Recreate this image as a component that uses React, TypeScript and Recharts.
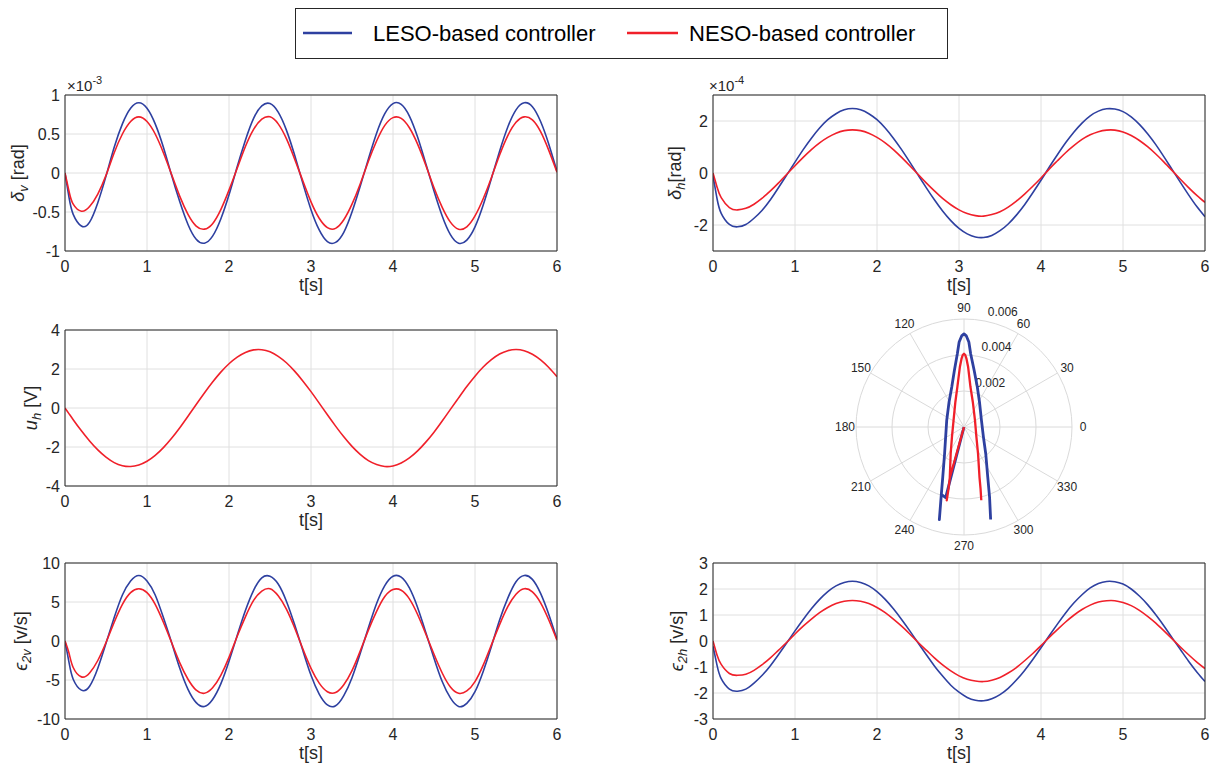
import React from "react";
import {
  LineChart, Line, XAxis, YAxis, CartesianGrid,
  ScatterChart, Scatter, RadarChart, PolarGrid, PolarAngleAxis,
} from "recharts";

const FONT = '"Liberation Sans", Arial, Helvetica, sans-serif';
const INK = "#262626";
const GRID = "#e0e0e0";
const BLUE = "#2e40a0";
const RED = "#f0202a";

const T_TICKS = [0, 1, 2, 3, 4, 5, 6];

const TIME = [
  0, 0.05, 0.1, 0.2, 0.3, 0.4, 0.5, 0.6, 0.7, 0.8, 0.9, 1.0, 1.1, 1.2, 1.3, 1.4, 1.5, 1.6, 1.7, 1.8, 1.9,
  2.0, 2.1, 2.2, 2.3, 2.4, 2.5, 2.6, 2.7, 2.8, 2.9, 3.0, 3.1, 3.2, 3.3, 3.4, 3.5, 3.6, 3.7, 3.8, 3.9,
  4.0, 4.1, 4.2, 4.3, 4.4, 4.5, 4.6, 4.7, 4.8, 4.9, 5.0, 5.1, 5.2, 5.3, 5.4, 5.5, 5.6, 5.7, 5.8, 5.9, 6.0,
];

// delta_v, x1e-3 rad
const DV_LESO = [
  0, -0.32, -0.53, -0.68, -0.63, -0.38, -0.04,
  0.33, 0.63, 0.83, 0.90, 0.83, 0.63, 0.33, -0.03, -0.37, -0.66, -0.85, -0.90, -0.81, -0.59,
  -0.28, 0.08, 0.42, 0.70, 0.86, 0.89, 0.78, 0.55, 0.23, -0.13, -0.47, -0.73, -0.88, -0.89, -0.76,
  -0.50, -0.17, 0.18, 0.51, 0.76, 0.89, 0.88, 0.73, 0.46, 0.12, -0.23, -0.55, -0.79, -0.90, -0.86,
  -0.69, -0.41, -0.07, 0.28, 0.59, 0.81, 0.90, 0.85, 0.66, 0.37, 0.02,
];
const DV_NESO = [
  0, -0.24, -0.40, -0.49, -0.43, -0.27, -0.03,
  0.26, 0.50, 0.66, 0.72, 0.66, 0.50, 0.26, -0.02, -0.30, -0.53, -0.68, -0.72, -0.65, -0.47,
  -0.22, 0.06, 0.34, 0.56, 0.69, 0.72, 0.63, 0.44, 0.18, -0.10, -0.37, -0.58, -0.70, -0.71, -0.60,
  -0.40, -0.14, 0.15, 0.41, 0.61, 0.71, 0.70, 0.58, 0.37, 0.10, -0.19, -0.44, -0.63, -0.72, -0.69,
  -0.55, -0.33, -0.06, 0.23, 0.48, 0.65, 0.72, 0.68, 0.53, 0.29, 0.01,
];

// delta_h, x1e-4 rad
const DH_LESO = [
  -0.1, -1.0, -1.55, -1.98, -2.07, -1.98, -1.74, -1.43, -1.03, -0.56,
  -0.07, 0.42, 0.90, 1.34, 1.73, 2.05, 2.28, 2.43, 2.48, 2.43,
  2.28, 2.05, 1.73, 1.34, 0.90, 0.42, -0.07, -0.56, -1.03, -1.46,
  -1.83, -2.13, -2.34, -2.46, -2.48, -2.40, -2.22, -1.96, -1.62, -1.22,
  -0.76, -0.28, 0.22, 0.70, 1.16, 1.57, 1.92, 2.20, 2.38, 2.47,
  2.46, 2.36, 2.16, 1.87, 1.51, 1.09, 0.62, 0.13, -0.36, -0.84,
  -1.29, -1.68,
];
const DH_NESO = [
  0, -0.55, -0.95, -1.33, -1.42, -1.36, -1.20, -0.97, -0.69, -0.38,
  -0.05, 0.28, 0.60, 0.90, 1.16, 1.37, 1.53, 1.63, 1.66, 1.63,
  1.53, 1.37, 1.16, 0.90, 0.60, 0.28, -0.05, -0.38, -0.69, -0.98,
  -1.22, -1.42, -1.56, -1.64, -1.66, -1.60, -1.49, -1.31, -1.08, -0.81,
  -0.51, -0.19, 0.15, 0.47, 0.78, 1.05, 1.29, 1.47, 1.59, 1.65,
  1.65, 1.58, 1.44, 1.25, 1.01, 0.73, 0.42, 0.09, -0.24, -0.56,
  -0.86, -1.13,
];

// u_h [V]
const UH_NESO = [
  0, -0.30,
  -0.60, -1.17, -1.69, -2.15, -2.52, -2.80, -2.96, -3.00, -2.92, -2.73,
  -2.43, -2.03, -1.55, -1.01, -0.42, 0.18, 0.77, 1.33, 1.84, 2.27,
  2.61, 2.85, 2.98, 2.99, 2.88, 2.65, 2.32, 1.89, 1.39, 0.84,
  0.25, -0.35, -0.93, -1.48, -1.97, -2.38, -2.70, -2.90, -3.00, -2.97,
  -2.82, -2.56, -2.20, -1.75, -1.24, -0.67, -0.07, 0.52, 1.10, 1.63,
  2.10, 2.48, 2.77, 2.94, 3.00, 2.94, 2.76, 2.47, 2.08, 1.61,
];

// eps_2v [v/s]
const E2V_LESO = [
  0, -2.8, -4.9, -6.3, -5.8, -3.5, -0.3,
  3.0, 5.9, 7.7, 8.4, 7.7, 5.9, 3.0, -0.2, -3.5, -6.2, -7.9, -8.4, -7.5, -5.5,
  -2.6, 0.7, 3.9, 6.5, 8.1, 8.3, 7.3, 5.1, 2.1, -1.2, -4.4, -6.8, -8.2, -8.3, -7.0,
  -4.7, -1.6, 1.7, 4.8, 7.1, 8.3, 8.2, 6.8, 4.3, 1.1, -2.2, -5.2, -7.3, -8.4, -8.0,
  -6.5, -3.9, -0.7, 2.7, 5.5, 7.6, 8.4, 7.9, 6.1, 3.4, 0.2,
];
const E2V_NESO = [
  0, -1.6, -3.4, -4.6, -4.1, -2.5, -0.2,
  2.4, 4.7, 6.2, 6.7, 6.2, 4.7, 2.4, -0.2, -2.8, -4.9, -6.3, -6.7, -6.0, -4.4,
  -2.1, 0.6, 3.1, 5.2, 6.4, 6.7, 5.8, 4.1, 1.7, -1.0, -3.5, -5.4, -6.5, -6.6, -5.6,
  -3.8, -1.3, 1.4, 3.8, 5.7, 6.6, 6.5, 5.4, 3.4, 0.9, -1.7, -4.1, -5.9, -6.7, -6.4,
  -5.2, -3.1, -0.5, 2.1, 4.4, 6.0, 6.7, 6.3, 4.9, 2.7, 0.1,
];

// eps_2h [v/s]
const E2H_LESO = [
  -0.2, -0.95, -1.45, -1.85, -1.93, -1.85, -1.62, -1.32, -0.95, -0.52,
  -0.07, 0.39, 0.83, 1.24, 1.60, 1.90, 2.12, 2.25, 2.30, 2.25,
  2.12, 1.90, 1.60, 1.24, 0.83, 0.39, -0.07, -0.52, -0.96, -1.35,
  -1.70, -1.97, -2.17, -2.28, -2.30, -2.22, -2.06, -1.82, -1.50, -1.13,
  -0.71, -0.26, 0.20, 0.65, 1.08, 1.46, 1.78, 2.04, 2.21, 2.29,
  2.28, 2.19, 2.00, 1.73, 1.40, 1.01, 0.58, 0.12, -0.33, -0.78,
  -1.19, -1.56,
];
const E2H_NESO = [
  0, -0.55, -0.90, -1.25, -1.32, -1.28, -1.13, -0.91, -0.65, -0.35,
  -0.05, 0.27, 0.57, 0.84, 1.09, 1.29, 1.44, 1.53, 1.56, 1.53,
  1.44, 1.29, 1.09, 0.84, 0.57, 0.27, -0.05, -0.35, -0.65, -0.92,
  -1.15, -1.34, -1.47, -1.54, -1.56, -1.51, -1.40, -1.23, -1.02, -0.76,
  -0.48, -0.18, 0.14, 0.44, 0.73, 0.99, 1.21, 1.38, 1.50, 1.55,
  1.55, 1.48, 1.36, 1.18, 0.95, 0.69, 0.39, 0.08, -0.23, -0.53,
  -0.81, -1.06,
];

// polar trace, cartesian x/y in units of 1e-3
const POLAR_LESO_X = [0, -1.02, -1.26, -1.37, -1.26, -1.18, -1.08, -1.02, -0.96, -0.83, -0.68, -0.53, -0.37, -0.27, -0.13, 0, 0.13, 0.27, 0.37, 0.56, 0.74, 0.86, 0.97, 1.08, 1.21, 1.32, 1.42, 1.48];
const POLAR_LESO_Y = [0, -3.92, -3.74, -5.15, -3.74, -2.78, -1.50, -0.56, 0.37, 1.39, 2.22, 3.17, 4.07, 4.72, 5.06, 5.17, 5.06, 4.72, 4.07, 3.17, 2.22, 1.39, 0.37, -0.56, -1.50, -2.78, -3.89, -5.14];
const POLAR_NESO_X = [0, -0.79, -0.86, -0.96, -0.86, -0.79, -0.74, -0.67, -0.58, -0.48, -0.37, -0.23, -0.14, -0.07, 0, 0.07, 0.14, 0.23, 0.36, 0.49, 0.61, 0.69, 0.78, 0.86, 0.92, 0.96];
const POLAR_NESO_Y = [0, -2.82, -3.44, -4.07, -3.44, -2.82, -1.48, -0.56, 0.37, 1.39, 2.22, 3.33, 3.78, 4.00, 4.07, 4.00, 3.78, 3.33, 2.22, 1.39, 0.37, -0.56, -1.48, -2.78, -3.44, -4.07];

const ANGLE_TICKS = [0, 30, 60, 90, 120, 150, 180, 210, 240, 270, 300, 330];
const RING_TICKS = [0.002, 0.004, 0.006];
const R_MAX = 0.006;
const R_LABEL_ANGLE = 80;

const PLOT_TOP = 25;
const PLOT_H = 156;
const Y_AXIS_W = 65;

type YLab = { sym: string; sub: string; unit: string };

function Panel({
  left, top, leso, neso, yDomain, yTicks, ylab, labelX, exp, expX,
}: {
  left: number; top: number; leso?: number[]; neso: number[];
  yDomain: [number, number]; yTicks: number[]; ylab: YLab; labelX: number; exp?: string; expX?: number;
}) {
  const rows = TIME.map((t, i) => ({ t, leso: leso ? leso[i] : null, neso: neso[i] }));
  const cy = PLOT_TOP + PLOT_H / 2;
  const tickStyle = { fontSize: 16, fill: INK, fontFamily: FONT };

  return (
    <div style={{ position: "absolute", left, top }}>
      <LineChart width={570} height={226} data={rows} margin={{ top: PLOT_TOP, right: 13, bottom: 0, left: 0 }}>
        <CartesianGrid stroke={GRID} />
        <XAxis
          dataKey="t" type="number" domain={[0, 6]} ticks={T_TICKS} allowDataOverflow height={45}
          axisLine={{ stroke: INK }} tickLine={false} tickSize={0} tickMargin={10} tick={tickStyle}
          label={{
            content: () => (
              <text x={Y_AXIS_W + 246} y={PLOT_TOP + PLOT_H + 34} textAnchor="middle" dominantBaseline="central"
                fontSize={18} fill={INK} fontFamily={FONT}>t[s]</text>
            ),
          }}
        />
        <XAxis xAxisId="bin" type="number" domain={[0, 6]} ticks={T_TICKS} allowDataOverflow mirror
          tick={false} tickSize={5} tickLine={{ stroke: INK }} axisLine={false} />
        <XAxis xAxisId="top" orientation="top" type="number" domain={[0, 6]} ticks={T_TICKS} allowDataOverflow mirror
          tick={false} tickSize={5} tickLine={{ stroke: INK }} axisLine={{ stroke: INK }}
          label={exp ? {
            content: () => (
              <text x={expX} y={21} fontSize={15} fill={INK} fontFamily={FONT}>
                ×10<tspan dy={-7} fontSize={11}>{exp}</tspan>
              </text>
            ),
          } : undefined}
        />
        <YAxis
          type="number" domain={yDomain} ticks={yTicks} allowDataOverflow width={Y_AXIS_W}
          axisLine={{ stroke: INK }} tickLine={false} tickSize={0} tickMargin={5} tick={tickStyle}
          label={{
            content: () => (
              <text transform={`translate(${labelX},${cy}) rotate(-90)`} textAnchor="middle" dominantBaseline="central"
                fontSize={18} fill={INK} fontFamily={FONT}>
                <tspan fontStyle="italic">{ylab.sym}</tspan>
                <tspan dy={5} fontSize={13} fontStyle="italic">{ylab.sub}</tspan>
                <tspan dy={-5}>{ylab.unit}</tspan>
              </text>
            ),
          }}
        />
        <YAxis yAxisId="lin" type="number" domain={yDomain} ticks={yTicks} allowDataOverflow mirror
          tick={false} tickSize={5} tickLine={{ stroke: INK }} axisLine={false} />
        <YAxis yAxisId="right" orientation="right" type="number" domain={yDomain} ticks={yTicks} allowDataOverflow mirror
          tick={false} tickSize={5} tickLine={{ stroke: INK }} axisLine={{ stroke: INK }} />
        {leso && (
          <Line dataKey="leso" type="natural" stroke={BLUE} strokeWidth={1.6} dot={false} isAnimationActive={false} />
        )}
        <Line dataKey="neso" type="natural" stroke={RED} strokeWidth={1.6} dot={false} isAnimationActive={false} />
      </LineChart>
    </div>
  );
}

function AngleTick(props: any) {
  return (
    <text x={props.x} y={props.y} textAnchor="middle" dominantBaseline="central" fontSize={12} fill={INK} fontFamily={FONT}>
      {props.payload.value}
    </text>
  );
}

const noDot = () => <g />;

const P_W = 300;
const P_H = 260;
const P_CX = 150;
const P_CY = 130;
const P_R = 108;

function PolarPanel() {
  const angleRows = ANGLE_TICKS.map((a) => ({ angle: a }));
  const ringPx = RING_TICKS.map((v) => (P_R * v) / R_MAX);
  const leso = POLAR_LESO_X.map((x, i) => ({ x: x * 1e-3, y: POLAR_LESO_Y[i] * 1e-3 }));
  const neso = POLAR_NESO_X.map((x, i) => ({ x: x * 1e-3, y: POLAR_NESO_Y[i] * 1e-3 }));
  const a = (R_LABEL_ANGLE * Math.PI) / 180;
  return (
    <div style={{ position: "absolute", left: 964 - P_CX, top: 427 - P_CY, width: P_W, height: P_H }}>
      <div style={{ position: "absolute", left: 0, top: 0 }}>
        <RadarChart width={P_W} height={P_H} cx={P_CX} cy={P_CY} outerRadius={P_R} startAngle={30} endAngle={390}
          data={angleRows} margin={{ top: 0, right: 0, bottom: 0, left: 0 }}>
          <PolarGrid gridType="circle" stroke="#dadada" polarRadius={ringPx} />
          <PolarAngleAxis dataKey="angle" tickLine={false} axisLine={false} tickSize={11} tick={AngleTick} />
        </RadarChart>
      </div>
      <svg width={P_W} height={P_H} style={{ position: "absolute", left: 0, top: 0 }}>
        {RING_TICKS.map((v, i) => (
          <text key={v} x={P_CX + ringPx[i] * Math.cos(a) + 5} y={P_CY - ringPx[i] * Math.sin(a) - 9}
            dominantBaseline="central" fontSize={12} fill={INK} fontFamily={FONT}>{String(v)}</text>
        ))}
      </svg>
      <div style={{ position: "absolute", left: P_CX - P_R, top: P_CY - P_R }}>
        <ScatterChart width={2 * P_R} height={2 * P_R} margin={{ top: 0, right: 0, bottom: 0, left: 0 }}>
          <XAxis type="number" dataKey="x" domain={[-R_MAX, R_MAX]} allowDataOverflow hide />
          <YAxis type="number" dataKey="y" domain={[-R_MAX, R_MAX]} allowDataOverflow hide />
          <Scatter data={leso} fill={BLUE} line={{ stroke: BLUE, strokeWidth: 2.8, strokeLinejoin: "round" }} shape={noDot} isAnimationActive={false} />
          <Scatter data={neso} fill={RED} line={{ stroke: RED, strokeWidth: 2.3, strokeLinejoin: "round" }} shape={noDot} isAnimationActive={false} />
        </ScatterChart>
      </div>
    </div>
  );
}

export default function App() {
  return (
    <div style={{ position: "absolute", left: 0, top: 0, width: 1213, height: 764, background: "#fff", fontFamily: FONT }}>
      <Panel left={0} top={70} leso={DV_LESO} neso={DV_NESO} yDomain={[-1, 1]} yTicks={[-1, -0.5, 0, 0.5, 1]}
        ylab={{ sym: "δ", sub: "v", unit: " [rad]" }} labelX={18} exp="-3" expX={67} />
      <Panel left={648} top={70} leso={DH_LESO} neso={DH_NESO} yDomain={[-3, 3]} yTicks={[-2, 0, 2]}
        ylab={{ sym: "δ", sub: "h", unit: "[rad]" }} labelX={27} exp="-4" expX={61} />
      <Panel left={0} top={305} neso={UH_NESO} yDomain={[-4, 4]} yTicks={[-4, -2, 0, 2, 4]}
        ylab={{ sym: "u", sub: "h", unit: " [V]" }} labelX={31} />
      <PolarPanel />
      <Panel left={0} top={538} leso={E2V_LESO} neso={E2V_NESO} yDomain={[-10, 10]} yTicks={[-10, -5, 0, 5, 10]}
        ylab={{ sym: "ϵ", sub: "2v", unit: " [v/s]" }} labelX={21} />
      <Panel left={648} top={538} leso={E2H_LESO} neso={E2H_NESO} yDomain={[-3, 3]} yTicks={[-3, -2, -1, 0, 1, 2, 3]}
        ylab={{ sym: "ϵ", sub: "2h", unit: " [v/s]" }} labelX={29} />

      <svg width={1213} height={764} style={{ position: "absolute", left: 0, top: 0, pointerEvents: "none" }}>
        <rect x={295.5} y={8.5} width={652} height={50} fill="#fff" stroke={INK} />
        <line x1={303} x2={352} y1={33} y2={33} stroke={BLUE} strokeWidth={2.5} />
        <text x={373} y={33} dominantBaseline="central" fontSize={22} fill="#000" fontFamily={FONT}>LESO-based controller</text>
        <line x1={627} x2={678} y1={33} y2={33} stroke={RED} strokeWidth={2.5} />
        <text x={689} y={33} dominantBaseline="central" fontSize={22} fill="#000" fontFamily={FONT}>NESO-based controller</text>
      </svg>
    </div>
  );
}
